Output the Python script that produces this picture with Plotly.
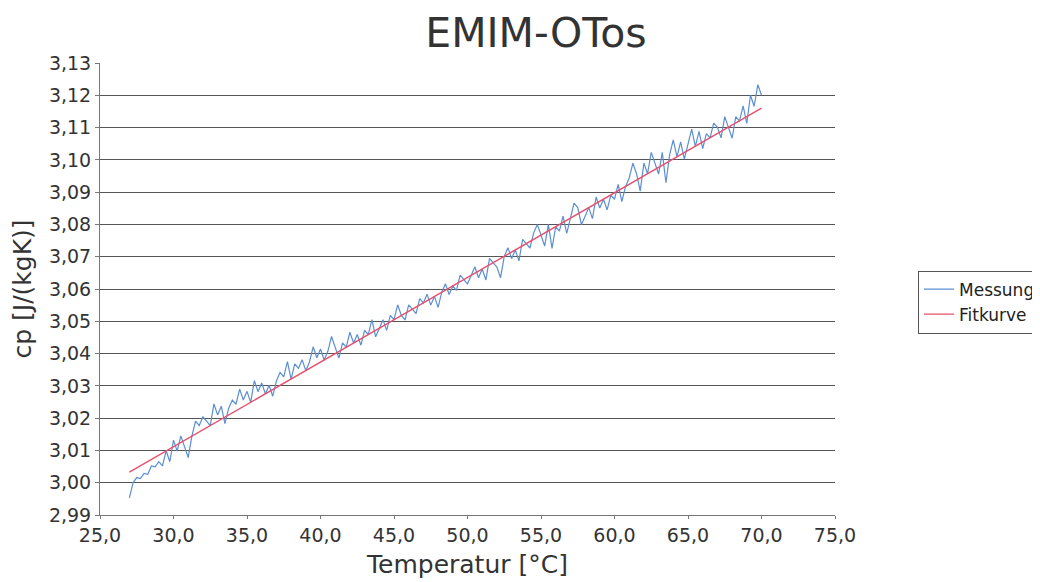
import plotly.graph_objects as go

temperatur = [
    27.0, 27.25, 27.5, 27.75, 28.0, 28.25, 28.5, 28.75, 29.0, 29.25, 29.5, 29.75,
    30.0, 30.25, 30.5, 30.75, 31.0, 31.25, 31.5, 31.75, 32.0, 32.25, 32.5, 32.75,
    33.0, 33.25, 33.5, 33.75, 34.0, 34.25, 34.5, 34.75, 35.0, 35.25, 35.5, 35.75,
    36.0, 36.25, 36.5, 36.75, 37.0, 37.25, 37.5, 37.75, 38.0, 38.25, 38.5, 38.75,
    39.0, 39.25, 39.5, 39.75, 40.0, 40.25, 40.5, 40.75, 41.0, 41.25, 41.5, 41.75,
    42.0, 42.25, 42.5, 42.75, 43.0, 43.25, 43.5, 43.75, 44.0, 44.25, 44.5, 44.75,
    45.0, 45.25, 45.5, 45.75, 46.0, 46.25, 46.5, 46.75, 47.0, 47.25, 47.5, 47.75,
    48.0, 48.25, 48.5, 48.75, 49.0, 49.25, 49.5, 49.75, 50.0, 50.25, 50.5, 50.75,
    51.0, 51.25, 51.5, 51.75, 52.0, 52.25, 52.5, 52.75, 53.0, 53.25, 53.5, 53.75,
    54.0, 54.25, 54.5, 54.75, 55.0, 55.25, 55.5, 55.75, 56.0, 56.25, 56.5, 56.75,
    57.0, 57.25, 57.5, 57.75, 58.0, 58.25, 58.5, 58.75, 59.0, 59.25, 59.5, 59.75,
    60.0, 60.25, 60.5, 60.75, 61.0, 61.25, 61.5, 61.75, 62.0, 62.25, 62.5, 62.75,
    63.0, 63.25, 63.5, 63.75, 64.0, 64.25, 64.5, 64.75, 65.0, 65.25, 65.5, 65.75,
    66.0, 66.25, 66.5, 66.75, 67.0, 67.25, 67.5, 67.75, 68.0, 68.25, 68.5, 68.75,
    69.0, 69.25, 69.5, 69.75, 70.0,
]
messung = [
    2.9953, 3.0000, 3.0016, 3.0013, 3.0029, 3.0026, 3.0052, 3.0049, 3.0065, 3.0052, 3.0099, 3.0065,
    3.0132, 3.0098, 3.0145, 3.0111, 3.0078, 3.0144, 3.0191, 3.0177, 3.0204, 3.0191, 3.0177, 3.0244,
    3.0210, 3.0237, 3.0183, 3.0230, 3.0256, 3.0243, 3.0290, 3.0256, 3.0283, 3.0249, 3.0316, 3.0282,
    3.0309, 3.0275, 3.0302, 3.0268, 3.0315, 3.0342, 3.0328, 3.0375, 3.0321, 3.0368, 3.0354, 3.0381,
    3.0347, 3.0374, 3.0421, 3.0387, 3.0414, 3.0380, 3.0407, 3.0453, 3.0420, 3.0386, 3.0433, 3.0420,
    3.0466, 3.0433, 3.0459, 3.0426, 3.0472, 3.0459, 3.0505, 3.0452, 3.0478, 3.0505, 3.0472, 3.0518,
    3.0505, 3.0551, 3.0518, 3.0504, 3.0551, 3.0537, 3.0524, 3.0570, 3.0557, 3.0584, 3.0550, 3.0577,
    3.0543, 3.0590, 3.0616, 3.0583, 3.0609, 3.0596, 3.0643, 3.0629, 3.0616, 3.0642, 3.0669, 3.0635,
    3.0662, 3.0628, 3.0695, 3.0681, 3.0668, 3.0635, 3.0701, 3.0728, 3.0694, 3.0721, 3.0687, 3.0754,
    3.0740, 3.0727, 3.0774, 3.0800, 3.0767, 3.0733, 3.0800, 3.0726, 3.0793, 3.0779, 3.0826, 3.0772,
    3.0819, 3.0866, 3.0852, 3.0799, 3.0825, 3.0852, 3.0818, 3.0885, 3.0851, 3.0878, 3.0845, 3.0891,
    3.0878, 3.0924, 3.0871, 3.0917, 3.0944, 3.0990, 3.0957, 3.0903, 3.0990, 3.0957, 3.1023, 3.0990,
    3.0956, 3.1023, 3.0929, 3.1016, 3.1062, 3.1009, 3.1056, 3.1002, 3.1049, 3.1095, 3.1042, 3.1088,
    3.1035, 3.1081, 3.1068, 3.1114, 3.1101, 3.1068, 3.1134, 3.1101, 3.1067, 3.1134, 3.1120, 3.1167,
    3.1113, 3.1200, 3.1166, 3.1233, 3.1200,
]

# Fit curve (end points)
fit_temperatur = [27.0, 70.0]
fit_cp = [3.0033, 3.1160]

x_ticks = [25, 30, 35, 40, 45, 50, 55, 60, 65, 70, 75]
y_ticks = [2.99, 3.00, 3.01, 3.02, 3.03, 3.04, 3.05, 3.06, 3.07, 3.08, 3.09, 3.10, 3.11, 3.12, 3.13]

FONT = "DejaVu Sans"

fig = go.Figure()
fig.add_trace(go.Scatter(
    x=temperatur, y=messung, mode="lines", name="Messung",
    line=dict(color="#5b8fd2", width=1.2),
))
fig.add_trace(go.Scatter(
    x=fit_temperatur, y=fit_cp, mode="lines", name="Fitkurve",
    line=dict(color="#e8506a", width=1.4),
))

fig.update_layout(
    width=1040, height=582,
    paper_bgcolor="white", plot_bgcolor="white",
    separators=",.",
    margin=dict(l=92, r=213, t=55, b=75),
    font=dict(family=FONT, color="#333333"),
    title=dict(text="EMIM-OTos", x=528 / 1040, xanchor="center", xref="container",
               y=1 - 25 / 582, yanchor="middle",
               font=dict(family=FONT, size=41, color="#333333")),
    legend=dict(
        xref="container", yref="container",
        x=910 / 1040, y=1 - 294 / 582, xanchor="left", yanchor="middle",
        bordercolor="#555555", borderwidth=1, bgcolor="white",
        font=dict(family=FONT, size=17, color="#222222"),
        itemwidth=30,
    ),
    showlegend=True,
)
fig.update_xaxes(
    range=[25, 75], tickvals=x_ticks, tickformat=".1f",
    showgrid=False, zeroline=False, automargin=False,
    showline=True, linecolor="#777777", linewidth=1,
    ticks="outside", ticklen=3, tickcolor="#777777",
    tickfont=dict(family=FONT, size=19, color="#333333"),
    title=dict(text="Temperatur [°C]", font=dict(family=FONT, size=25, color="#333333"), standoff=10),
)
fig.update_yaxes(
    range=[2.99, 3.13], tickvals=y_ticks, tickformat=".2f",
    showgrid=True, gridcolor="#555555", gridwidth=1, zeroline=False, automargin=False,
    showline=True, linecolor="#777777", linewidth=1,
    ticks="outside", ticklen=4, tickcolor="#777777",
    tickfont=dict(family=FONT, size=19, color="#333333"),
    title=dict(text="cp [J/(kgK)]", font=dict(family=FONT, size=25, color="#333333"), standoff=17),
)

fig.write_html("out.html")
